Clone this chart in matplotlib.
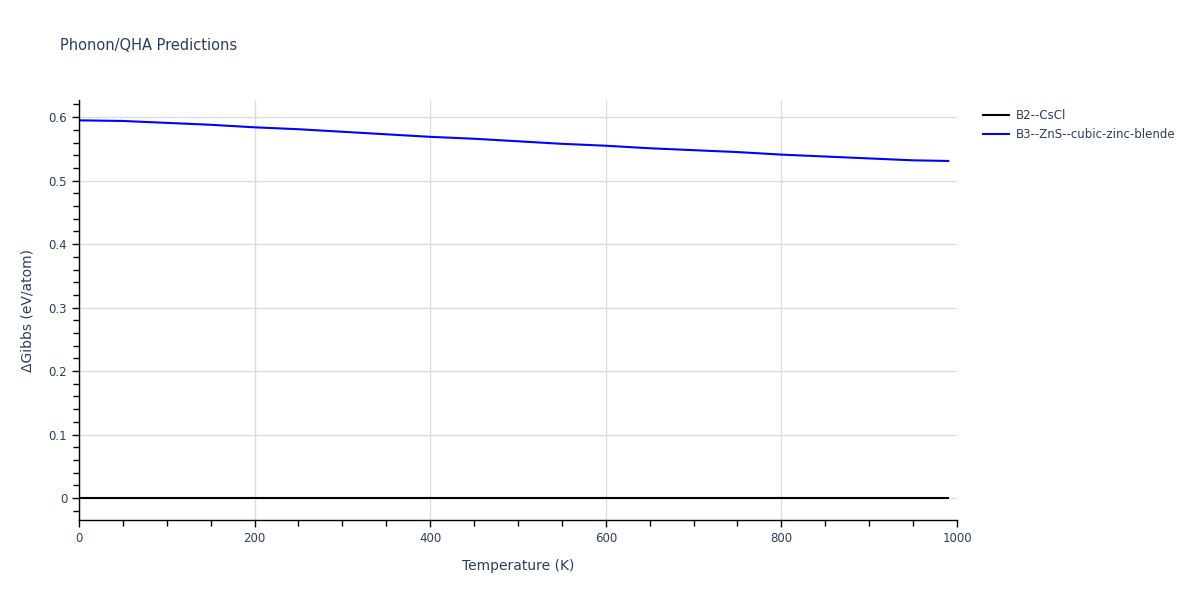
import numpy as np
import matplotlib.pyplot as plt
from matplotlib.ticker import MultipleLocator

plt.rcParams['font.family'] = ['DejaVu Sans']
text_color = '#2a3f5f'

temps = [0, 50, 100, 150, 200, 250, 300, 350, 400, 450, 500,
         550, 600, 650, 700, 750, 800, 850, 900, 950, 990]
b2_cscl = [0.0] * len(temps)
b3_zns = [0.595, 0.594, 0.591, 0.588, 0.584, 0.581, 0.577, 0.573, 0.569, 0.566, 0.562,
          0.558, 0.555, 0.551, 0.548, 0.545, 0.541, 0.538, 0.535, 0.532, 0.531]
series_labels = ['B2--CsCl', 'B3--ZnS--cubic-zinc-blende']

fig = plt.figure(figsize=(12, 6), dpi=100)
ax = fig.add_axes([0.0658, 0.1333, 0.7317, 0.7])

ax.plot(temps, b2_cscl, color='black', lw=1.5, label=series_labels[0])
ax.plot(temps, b3_zns, color='blue', lw=1.5, label=series_labels[1])

ax.set_xlim(0, 1000)
ax.set_ylim(-0.0346, 0.627)
ax.set_xticks([0, 200, 400, 600, 800, 1000])
ax.xaxis.set_minor_locator(MultipleLocator(50))
ax.yaxis.set_major_locator(MultipleLocator(0.1))
ax.yaxis.set_minor_locator(MultipleLocator(0.02))
ax.yaxis.set_major_formatter(plt.FuncFormatter(lambda v, p: '0' if abs(v) < 1e-9 else f'{v:.1f}'))

ax.grid(True, which='major', color='#dddddd', lw=1)
ax.xaxis.get_gridlines()[-1].set_visible(False)
ax.set_axisbelow(True)
for s in ['top', 'right']:
    ax.spines[s].set_visible(False)
for s in ['left', 'bottom']:
    ax.spines[s].set_color('black')
    ax.spines[s].set_linewidth(1)
ax.tick_params(which='major', direction='out', color='black', length=5, width=1,
               labelcolor=text_color, labelsize=8.5)
ax.tick_params(which='minor', direction='out', color='black', length=4, width=1)

ax.set_xlabel('Temperature (K)', color=text_color, fontsize=10, labelpad=10)
ax.set_ylabel('ΔGibbs (eV/atom)', color=text_color, fontsize=10, labelpad=10)
fig.text(0.05, 0.925, 'Phonon/QHA Predictions', color=text_color, fontsize=10.5, va='center')

ax.legend(loc='upper left', bbox_to_anchor=(1.024, 0.99), frameon=False,
          fontsize=8.5, labelcolor=text_color, handlelength=2.2, handletextpad=0.6,
          labelspacing=0.5, borderaxespad=0)

fig.savefig('out.png', dpi=100)
